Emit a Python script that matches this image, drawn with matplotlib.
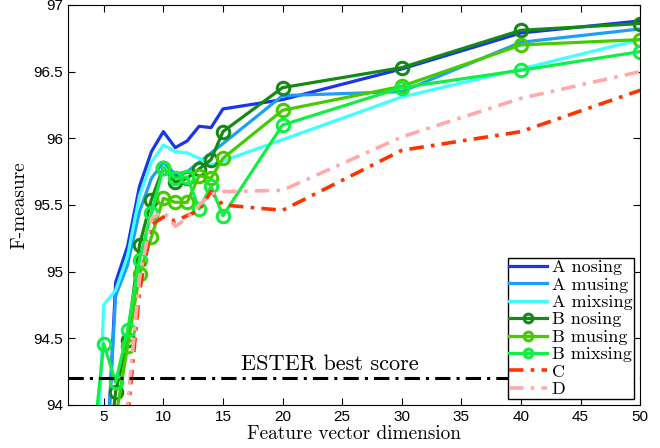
import matplotlib
matplotlib.use('Agg')
import matplotlib.pyplot as plt

# Feature vector dimensions
dims = [4, 5, 6, 7, 8, 9, 10, 11, 12, 13, 14, 15, 20, 30, 40, 50]

# F-measure per system (low ones fall off the axis)
a_nosing = [91.0, 93.1, 94.92, 95.19, 95.64, 95.9, 96.05, 95.93, 95.98, 96.09, 96.08, 96.22, 96.29, 96.52, 96.79, 96.88]
a_musing = [91.0, 93.2, 94.82, 95.05, 95.45, 95.7, 95.82, 95.73, 95.75, 95.82, 95.89, 95.96, 96.32, 96.35, 96.72, 96.82]
a_mixsing = [92.5, 94.75, 94.86, 95.12, 95.57, 95.82, 95.95, 95.9, 95.89, 95.85, 95.8, 95.83, 95.99, 96.31, 96.52, 96.74]
b_nosing = [91.0, 93.3, 94.1, 94.49, 95.2, 95.54, 95.78, 95.67, 95.7, 95.77, 95.84, 96.05, 96.38, 96.53, 96.81, 96.86]
b_musing = [91.0, 93.0, 93.9, 94.44, 94.98, 95.26, 95.55, 95.52, 95.52, 95.72, 95.7, 95.85, 96.21, 96.39, 96.7, 96.74]
b_mixsing = [93.6, 94.46, 94.17, 94.56, 95.09, 95.44, 95.78, 95.7, 95.71, 95.47, 95.64, 95.42, 96.1, 96.38, 96.51, 96.65]
c_vals = [90.0, 92.0, 93.0, 93.9, 94.85, 95.35, 95.41, 95.38, 95.42, 95.46, 95.6, 95.5, 95.46, 95.91, 96.05, 96.36]
d_vals = [90.0, 92.2, 93.1, 94.0, 94.95, 95.4, 95.45, 95.34, 95.4, 95.5, 95.58, 95.6, 95.61, 96.01, 96.3, 96.5]

ester_best = 94.2

serif = 'cmr10'
plt.rcParams['font.family'] = ['Liberation Sans', 'DejaVu Sans']
plt.rcParams['axes.unicode_minus'] = False

fig = plt.figure(figsize=(6.6, 4.48), dpi=100)
ax = fig.add_axes([0.103, 0.096, 0.867, 0.893])

lw = 2.3
ax.plot(dims, a_nosing, color='#1a35ee', lw=lw, label='A nosing')
ax.plot(dims, a_musing, color='#1aa0f8', lw=lw, label='A musing')
ax.plot(dims, a_mixsing, color='#40ffff', lw=lw, label='A mixsing')
mk = dict(marker='o', ms=9, mfc='none', mew=2.2)
ax.plot(dims, b_nosing, color='#148a14', lw=lw, label='B nosing', **mk)
ax.plot(dims, b_musing, color='#44cc00', lw=lw, label='B musing', **mk)
ax.plot(dims, b_mixsing, color='#11ee44', lw=lw, label='B mixsing', **mk)
ax.plot(dims, c_vals, color='#ff3300', lw=lw + 0.3, ls=(0, (4, 2, 1, 2)), label='C')
ax.plot(dims, d_vals, color='#ffaaaa', lw=lw + 0.3, ls=(0, (4, 2, 1, 2)), label='D')

# ESTER baseline
ax.axhline(ester_best, color='black', lw=2.2, ls=(0, (5, 2, 1, 2)))
ax.text(24, ester_best + 0.035, 'ESTER best score', ha='center', va='bottom',
        fontfamily=serif, fontsize=16)

ax.set_xlim(2, 50)
ax.set_ylim(94, 97)
ax.set_xticks(range(5, 51, 5))
ax.set_yticks([94, 94.5, 95, 95.5, 96, 96.5, 97])
ax.set_yticklabels(['94', '94.5', '95', '95.5', '96', '96.5', '97'])
ax.tick_params(direction='in', top=True, right=True, length=5, labelsize=11)
ax.set_xlabel('Feature vector dimension', fontfamily=serif, fontsize=13.9, labelpad=1)
ax.set_ylabel('F-measure', fontfamily=serif, fontsize=13.9, labelpad=4)

leg = ax.legend(loc='lower right', prop={'family': serif, 'size': 13},
                fancybox=False, framealpha=1, edgecolor='black',
                labelspacing=0.1, handlelength=2.1, handletextpad=0.25,
                borderpad=0.1, borderaxespad=0.33, markerscale=0.7)
leg.get_frame().set_linewidth(1.0)

fig.savefig('out.png', dpi=100)
